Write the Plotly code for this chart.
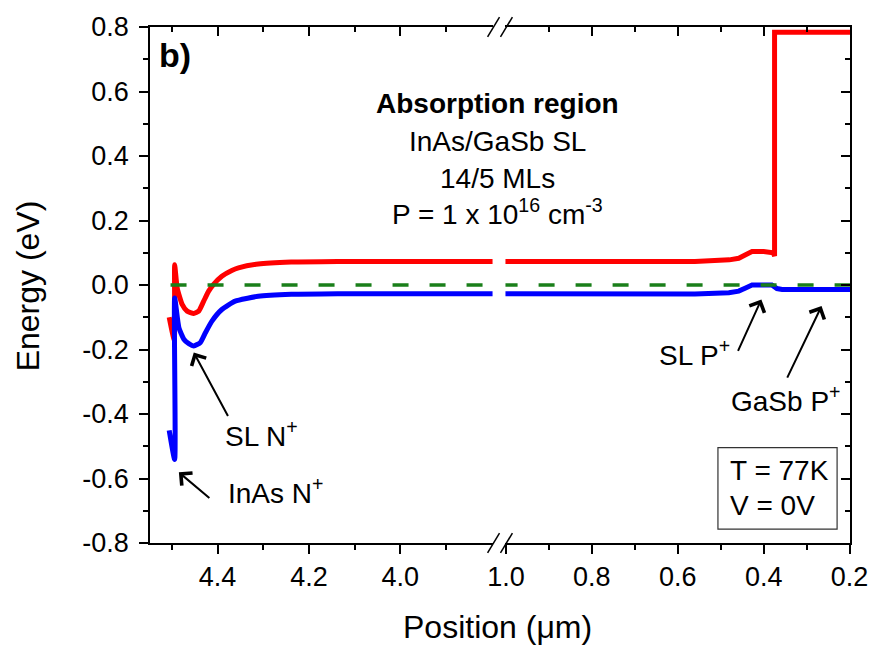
import plotly.graph_objects as go

# ---------------- data ----------------
# Left panel (position in um, 4.55 -> 3.8)
red_left_x = [4.506, 4.495, 4.494, 4.4885, 4.4776, 4.4667, 4.4522, 4.4413, 4.4304, 4.4196,
              4.4087, 4.3907, 4.3689, 4.3543, 4.3109, 4.2391, 4.137, 3.79]
red_left_y = [-0.100, -0.170, 0.063, -0.009, -0.060, -0.081, -0.088, -0.081, -0.050, -0.019,
              0.002, 0.027, 0.045, 0.053, 0.065, 0.071, 0.073, 0.073]

blue_left_x = [4.506, 4.494, 4.494, 4.4848, 4.4739, 4.463, 4.4522, 4.4376, 4.4267, 4.4124,
               4.3907, 4.3615, 4.3109, 4.2385, 4.137, 3.79]
blue_left_y = [-0.451, -0.541, -0.040, -0.132, -0.168, -0.182, -0.189, -0.178, -0.148, -0.112,
               -0.076, -0.050, -0.035, -0.029, -0.027, -0.027]

# Right panel (position in um, 1.0 -> 0.2)
red_right_x = [1.01, 0.56, 0.48, 0.458, 0.442, 0.427, 0.40, 0.378, 0.3746, 0.3746, 0.19]
red_right_y = [0.073, 0.073, 0.078, 0.083, 0.094, 0.104, 0.104, 0.100, 0.090, 0.784, 0.784]

blue_right_x = [1.01, 0.56, 0.481, 0.458, 0.442, 0.427, 0.381, 0.369, 0.357, 0.19]
blue_right_y = [-0.027, -0.028, -0.024, -0.019, -0.009, 0.000, 0.000, -0.011, -0.014, -0.014]

fermi_left_x = [4.503, 3.79]
fermi_right_x = [1.01, 0.19]
fermi_y = [0.0, 0.0]

left_ticks = [4.4, 4.2, 4.0]
left_minor = [4.5, 4.3, 4.1, 3.9]
right_ticks = [1.0, 0.8, 0.6, 0.4, 0.2]
right_minor = [0.9, 0.7, 0.5, 0.3]
y_ticks = [-0.8, -0.6, -0.4, -0.2, 0.0, 0.2, 0.4, 0.6, 0.8]
y_ticktext = ["-0.8", "-0.6", "-0.4", "-0.2", "0.0", "0.2", "0.4", "0.6", "0.8"]

# ---------------- figure ----------------
FONT = "Liberation Sans, Arial, sans-serif"
W, H = 880, 648
ML, MR, MT, MB = 150, 25, 24, 105
PW, PH = W - ML - MR, H - MT - MB


def px(xp):
    return (xp - ML) / PW


def py(yp):
    return (MT + PH - yp) / PH


RED = "#ff0000"
BLUE = "#0000ff"
GREEN = "#1a7f1a"
LW = 5

fig = go.Figure()
fig.add_trace(go.Scatter(x=red_left_x, y=red_left_y, xaxis="x", yaxis="y", mode="lines",
                         line=dict(color=RED, width=LW, shape="spline", smoothing=0.5), showlegend=False))
fig.add_trace(go.Scatter(x=blue_left_x, y=blue_left_y, xaxis="x", yaxis="y", mode="lines",
                         line=dict(color=BLUE, width=LW, shape="spline", smoothing=0.5), showlegend=False))
fig.add_trace(go.Scatter(x=red_right_x, y=red_right_y, xaxis="x2", yaxis="y", mode="lines",
                         line=dict(color=RED, width=LW), showlegend=False))
fig.add_trace(go.Scatter(x=blue_right_x, y=blue_right_y, xaxis="x2", yaxis="y", mode="lines",
                         line=dict(color=BLUE, width=LW), showlegend=False))
fig.add_trace(go.Scatter(x=fermi_left_x, y=fermi_y, xaxis="x", yaxis="y", mode="lines",
                         line=dict(color=GREEN, width=3.5, dash="16px,21px"), showlegend=False))
fig.add_trace(go.Scatter(x=fermi_right_x, y=fermi_y, xaxis="x2", yaxis="y", mode="lines",
                         line=dict(color=GREEN, width=3.5, dash="16px,21px"), showlegend=False))
# empty traces so that the mirror axes exist
fig.add_trace(go.Scatter(x=[None], y=[None], xaxis="x3", yaxis="y", showlegend=False, hoverinfo="skip"))
fig.add_trace(go.Scatter(x=[None], y=[None], xaxis="x4", yaxis="y", showlegend=False, hoverinfo="skip"))
fig.add_trace(go.Scatter(x=[None], y=[None], xaxis="x2", yaxis="y2", showlegend=False, hoverinfo="skip"))

LEFT_RANGE = [4.548, 3.798]
RIGHT_RANGE = [1.001, 0.199]
dom_left = [0, px(495)]
dom_right = [px(508), 1]

TICKSIZE = 27
axcommon = dict(showgrid=False, zeroline=False, showline=True, linecolor="black", linewidth=1.5,
                tickcolor="black", tickwidth=1.5, ticklen=9,
                tickfont=dict(family=FONT, size=TICKSIZE, color="black"))


def xax(rng, dom, tv, mv, **kw):
    d = dict(axcommon)
    d.update(range=rng, domain=dom, tickvals=tv, ticktext=[f"{v:.1f}" for v in tv],
             minor=dict(tickvals=mv, ticklen=5, tickwidth=1.5, tickcolor="black", ticks=kw.get("ticks", "outside")))
    d.update(kw)
    return d


fig.update_layout(
    width=W, height=H,
    margin=dict(l=ML, r=MR, t=MT, b=MB),
    paper_bgcolor="white", plot_bgcolor="white",
    font=dict(family=FONT, color="black"),
    xaxis=xax(LEFT_RANGE, dom_left, left_ticks, left_minor, anchor="y", ticks="outside"),
    xaxis2=xax(RIGHT_RANGE, dom_right, right_ticks, right_minor, anchor="y", ticks="outside"),
    xaxis3=xax(LEFT_RANGE, dom_left, left_ticks, left_minor, anchor="y", ticks="inside",
               overlaying="x", side="top", showticklabels=False),
    xaxis4=xax(RIGHT_RANGE, dom_right, right_ticks, right_minor, anchor="y", ticks="inside",
               overlaying="x2", side="top", showticklabels=False),
    yaxis=dict(axcommon, range=[-0.8, 0.8], domain=[0, 1], anchor="x",
               tickvals=y_ticks, ticktext=y_ticktext, ticks="outside", ticklabelstandoff=5,
               minor=dict(dtick=0.1, tick0=0, ticklen=5, tickwidth=1.5, tickcolor="black", ticks="outside")),
    yaxis2=dict(axcommon, range=[-0.8, 0.8], anchor="x2", overlaying="y", side="right",
                tickvals=y_ticks, ticks="inside", showticklabels=False,
                minor=dict(dtick=0.1, tick0=0, ticklen=5, tickwidth=1.5, tickcolor="black", ticks="inside")),
)

ann = []
# axis titles
ann.append(dict(text="Position (\u03bcm)", x=px(500), y=py(627), xref="paper", yref="paper",
                showarrow=False, font=dict(size=32, family=FONT), xanchor="center", yanchor="middle"))
ann.append(dict(text="Energy (eV)", x=px(28), y=py(284), xref="paper", yref="paper", textangle=-90,
                showarrow=False, font=dict(size=32, family=FONT), xanchor="center", yanchor="middle"))
# panel label
ann.append(dict(text="<b>b)</b>", x=px(175), y=py(52), xref="paper", yref="paper",
                showarrow=False, font=dict(size=34, family=FONT), xanchor="center", yanchor="middle"))
# central text block
center_lines = ["<b>Absorption region</b>", "InAs/GaSb SL", "14/5 MLs",
                "P = 1 x 10<sup>16</sup> cm<sup>-3</sup>"]
center_y = [101, 139, 176, 210]
for t, yy in zip(center_lines, center_y):
    ann.append(dict(text=t, x=px(500), y=py(yy), xref="paper", yref="paper", showarrow=False,
                    font=dict(size=28, family=FONT), xanchor="center", yanchor="middle"))
# labels
labels = [("SL N<sup>+</sup>", 262, 433), ("InAs N<sup>+</sup>", 276, 491),
          ("SL P<sup>+</sup>", 698, 352), ("GaSb P<sup>+</sup>", 791, 398)]
for t, xx, yy in labels:
    ann.append(dict(text=t, x=px(xx), y=py(yy), xref="paper", yref="paper", showarrow=False,
                    font=dict(size=28, family=FONT), xanchor="center", yanchor="middle"))
# arrows (tip in data coords, tail offset in pixels)
arrows = [("x", 4.4522, -0.2093, 35, 65), ("x", 4.4848, -0.5808, 32, 27),
          ("x2", 0.4053, -0.0447, -24, 53), ("x2", 0.2652, -0.0654, -35, 73)]
for xr, xx, yy, axp, ayp in arrows:
    ann.append(dict(text="", x=xx, y=yy, xref=xr, yref="y", ax=axp, ay=ayp, showarrow=True,
                    arrowhead=4, arrowsize=1.6, arrowwidth=2, arrowcolor="black", standoff=0))
# box text
ann.append(dict(text="T = 77K", x=px(732), y=py(470), xref="paper", yref="paper", showarrow=False,
                font=dict(size=28, family=FONT), xanchor="left", yanchor="middle"))
ann.append(dict(text="V = 0V", x=px(732), y=py(505), xref="paper", yref="paper", showarrow=False,
                font=dict(size=28, family=FONT), xanchor="left", yanchor="middle"))
fig.update_layout(annotations=ann)

shapes = [dict(type="rect", xref="paper", yref="paper", x0=px(722), x1=px(842), y0=py(529), y1=py(447),
               line=dict(color="#333333", width=1.2), fillcolor="rgba(0,0,0,0)")]
# axis-break marks
for y0, y1 in [(34, 14), (553, 533)]:
    for x0, x1 in [(490, 502), (503, 515)]:
        shapes.append(dict(type="line", xref="paper", yref="paper", x0=px(x0), x1=px(x1),
                           y0=py(y0), y1=py(y1), line=dict(color="black", width=1.5)))
fig.update_layout(shapes=shapes)

fig.write_html("out.html")
